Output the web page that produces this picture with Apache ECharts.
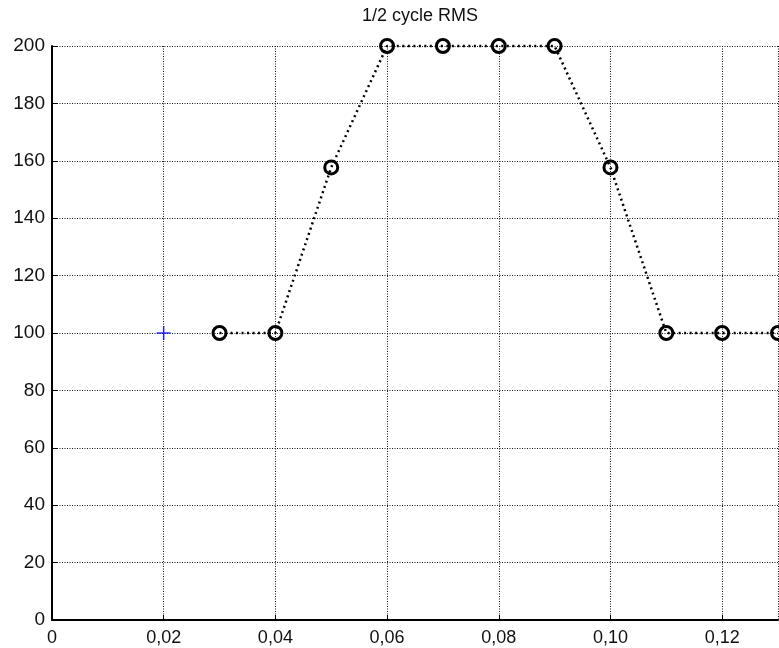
<!DOCTYPE html>
<html>
<head>
<meta charset="utf-8">
<script src="https://cdn.jsdelivr.net/npm/echarts@6/dist/echarts.min.js"></script>
<style>
  html, body { margin: 0; padding: 0; background: #fff; }
  #chart { width: 779px; height: 648px; }
</style>
</head>
<body>
<div id="chart"></div>
<script>
// Half-cycle RMS samples (time in s, RMS value)
const rmsTimes  = [0.03, 0.04, 0.05, 0.06, 0.07, 0.08, 0.09, 0.10, 0.11, 0.12, 0.13];
const rmsValues = [100, 100, 157.7, 200, 200, 200, 200, 157.7, 100, 100, 100];
// Reference start point
const startTimes  = [0.02];
const startValues = [100];

const chartTitle = '1/2 cycle RMS';

const chart = echarts.init(document.getElementById('chart'), null, { renderer: 'canvas' });

const gridLine = { show: true, lineStyle: { color: '#111', width: 1, type: [1, 1.5] } };
const font = 'Liberation Sans, Arial, sans-serif';

chart.setOption({
  animation: false,
  backgroundColor: '#fff',
  title: {
    text: chartTitle,
    left: 415, top: 2, textAlign: 'center',
    textStyle: { fontFamily: font, fontSize: 18, fontWeight: 'normal', color: '#111' }
  },
  grid: { left: 52, right: 1, top: 46, bottom: 28, containLabel: false },
  xAxis: {
    type: 'value', min: 0, max: 0.13, interval: 0.02,
    axisLine: { show: true, onZero: false, lineStyle: { color: '#000', width: 2 } },
    axisTick: { show: true, inside: true, length: 5, lineStyle: { color: '#000', width: 1 } },
    axisLabel: {
      showMaxLabel: false, margin: 9, color: '#111', fontFamily: font, fontSize: 18,
      formatter: v => v === 0 ? '0' : v.toFixed(2).replace('.', ',')
    },
    splitLine: gridLine
  },
  yAxis: {
    type: 'value', min: 0, max: 200, interval: 20,
    axisLine: { show: true, onZero: false, lineStyle: { color: '#000', width: 2 } },
    axisTick: { show: true, inside: true, length: 5, lineStyle: { color: '#000', width: 1 } },
    axisLabel: { margin: 7, color: '#111', fontFamily: font, fontSize: 19 },
    splitLine: gridLine
  },
  series: [
    {
      type: 'line',
      data: rmsTimes.map((t, i) => [t, rmsValues[i]]),
      symbol: 'circle', symbolSize: 13, showAllSymbol: true,
      lineStyle: { color: '#000', width: 2.5, type: [2, 3.5] },
      itemStyle: { color: 'rgba(255,255,255,0)', borderColor: '#000', borderWidth: 3 },
      clip: false,
      z: 3
    },
    {
      type: 'scatter',
      data: startTimes.map((t, i) => [t, startValues[i]]),
      symbol: 'path://M5,0L5,10M0,5L10,5', symbolSize: 14,
      itemStyle: { color: 'none', borderColor: '#0000ff', borderWidth: 1.5 },
      z: 4
    }
  ]
});
</script>
</body>
</html>
